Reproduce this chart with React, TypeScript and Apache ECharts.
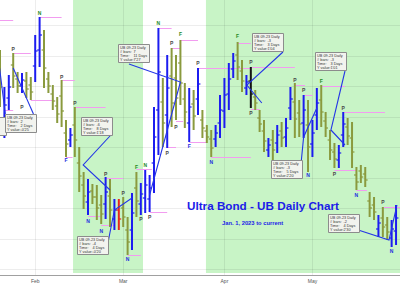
import { useEffect, useRef } from "react";
import * as echarts from "echarts";

// Weekday sessions shown on the chart, Jan 20 – May 26, 2023
const sessionDays: [string, number[]][] = [
  ["Jan", [20, 23, 24, 25, 26, 27, 30, 31]],
  ["Feb", [1, 2, 3, 6, 7, 8, 9, 10, 13, 14, 15, 16, 17, 20, 21, 22, 23, 24, 27, 28]],
  ["Mar", [1, 2, 3, 6, 7, 8, 9, 10, 13, 14, 15, 16, 17, 20, 21, 22, 23, 24, 27, 28, 29, 30, 31]],
  ["Apr", [3, 4, 5, 6, 7, 10, 11, 12, 13, 14, 17, 18, 19, 20, 21, 24, 25, 26, 27, 28]],
  ["May", [1, 2, 3, 4, 5, 8, 9, 10, 11, 12, 15, 16, 17, 18, 19, 22, 23, 24, 25, 26]],
];

// Daily OHLC of the UB 09-23 contract (points)
const opens = [
  136.5, 134.0, 135.1, 136.75, 136.05, 135.7, 135.95, 135.75, 136.7, 137.5,
  137.5, 136.05, 135.3, 134.7, 135.2, 133.35, 133.0, 133.75, 131.85, 130.75,
  129.9, 130.45, 130.15, 129.75, 129.8, 130.2, 129.05, 129.5, 129.6, 128.5,
  128.5, 130.6, 129.8, 130.1, 130.05, 131.85, 134.5, 134.9, 134.25, 136.2,
  136.1, 136.85, 135.05, 133.85, 134.8, 135.05, 134.0, 133.45, 133.05, 133.05,
  133.85, 134.45, 135.3, 136.55, 137.25, 136.45, 135.6, 135.95, 135.15, 134.1,
  133.45, 132.5, 133.0, 132.85, 133.45, 133.15, 134.6, 134.9, 134.35, 133.85,
  133.75, 132.8, 134.25, 135.0, 133.95, 133.0, 132.4, 132.0, 133.25, 133.65,
  133.1, 131.25, 131.45, 131.3, 129.95, 129.75, 128.55, 129.1, 128.75, 128.1,
  128.45,
];
const highs = [
  137.5, 135.65, 136.25, 137.35, 136.4, 136.35, 136.4, 136.15, 138.25, 139.15,
  138.5, 136.4, 135.75, 135.15, 136.0, 134.0, 133.6, 134.65, 132.65, 131.4,
  131.05, 130.8, 130.75, 130.25, 131.15, 131.05, 130.05, 130.05, 130.15, 129.15,
  130.35, 131.4, 130.85, 131.5, 131.25, 134.65, 138.6, 136.1, 137.25, 137.6,
  137.25, 138.0, 135.85, 135.6, 135.5, 136.6, 134.5, 133.75, 133.5, 133.75,
  135.25, 136.1, 136.85, 137.35, 137.9, 137.0, 136.25, 136.65, 135.5, 134.5,
  134.0, 133.1, 133.5, 133.75, 133.9, 134.1, 135.65, 135.85, 135.0, 135.25,
  135.0, 134.0, 135.6, 135.75, 134.4, 133.5, 132.85, 132.75, 134.4, 134.1,
  133.9, 131.65, 131.75, 131.65, 130.4, 130.15, 129.25, 129.65, 129.15, 129.0,
  129.75,
];
const lows = [
  134.65, 133.1, 134.5, 135.6, 135.35, 135.35, 135.1, 135.0, 135.9, 136.65,
  135.6, 135.35, 134.5, 133.85, 133.65, 132.15, 132.65, 132.15, 130.4, 129.55,
  129.25, 129.8, 129.0, 128.8, 129.05, 128.65, 128.5, 128.5, 128.65, 127.25,
  127.5, 129.15, 129.25, 129.35, 129.4, 130.35, 132.25, 132.65, 132.6, 133.65,
  134.0, 134.75, 133.6, 132.9, 133.5, 134.25, 133.1, 132.85, 132.15, 132.65,
  133.1, 133.6, 134.5, 136.1, 136.0, 135.4, 135.25, 134.6, 134.5, 133.4,
  132.4, 132.15, 132.0, 132.35, 132.65, 132.65, 134.0, 133.1, 133.15, 133.1,
  131.4, 132.15, 133.5, 133.65, 133.15, 132.0, 131.6, 131.6, 132.65, 132.75,
  131.6, 130.5, 130.85, 130.65, 129.15, 129.0, 128.15, 128.15, 128.0, 127.65,
  127.75,
];
const closes = [
  135.65, 134.75, 135.65, 136.2, 135.7, 136.0, 135.55, 135.4, 137.45, 138.25,
  136.6, 135.7, 134.95, 134.3, 134.45, 132.8, 133.25, 133.0, 131.2, 130.2,
  130.4, 130.15, 129.6, 129.3, 130.4, 129.5, 129.5, 129.05, 129.15, 127.9,
  129.35, 129.95, 130.3, 130.75, 130.6, 133.15, 136.4, 133.85, 135.6, 134.85,
  135.1, 135.85, 134.4, 134.65, 134.2, 135.8, 133.6, 133.15, 132.6, 133.35,
  134.5, 135.25, 136.05, 136.95, 136.65, 135.95, 135.9, 135.3, 134.85, 133.8,
  132.95, 132.75, 132.5, 133.25, 133.1, 133.6, 135.05, 134.05, 133.8, 134.5,
  132.65, 133.35, 134.85, 134.4, 133.6, 132.5, 132.05, 132.35, 133.8, 133.2,
  132.4, 130.9, 131.15, 131.0, 129.6, 129.4, 128.85, 128.65, 128.4, 128.55,
  129.1,
];
// Bar classification: u = up swing, d = down swing, x = outside, k = key reversal
const barState = [
  "d", "u", "u", "d", "d", "u", "d", "d", "u", "u",
  "d", "d", "d", "d", "d", "d", "u", "d", "d", "d",
  "u", "d", "d", "d", "u", "d", "u", "x", "d", "d",
  "u", "d", "u", "u", "u", "u", "u", "d", "u", "d",
  "d", "d", "d", "u", "d", "u", "d", "d", "d", "u",
  "u", "u", "u", "u", "d", "d", "u", "k", "d", "d",
  "d", "u", "d", "u", "d", "u", "u", "d", "d", "u",
  "d", "u", "u", "d", "d", "d", "d", "u", "u", "d",
  "d", "d", "d", "d", "d", "d", "u", "d", "d", "u",
  "u",
];

// Shaded trend regimes, in session index units [from, to]
const greenZones = [
  [16.6, 32.5],
  [46.8, 91.5],
];

// Horizontal grid levels (points)
const gridPrices = [138.75, 137.225, 135.7, 134.175, 132.65, 131.125, 129.6, 128.075, 126.55];

// Swing markers: letter, session index, price level
const pivotLetters = [
  "P", "N", "P", "P", "F", "P", "N", "N", "P", "P", "N", "F", "P", "N", "P", "N", "P", "P",
  "P", "F", "F", "P", "N", "F", "P", "P", "P", "P", "N", "F", "P", "P", "N", "P", "N",
];
const pivotIndex = [
  3, 9, 5, 14, 15, 17, 20, 23, 24, 28, 29, 31, 32, 33, 34, 36, 38, 39,
  40, 41, 43, 45, 48, 54, 57, 57, 67, 69, 70, 73, 76, 78, 81, 87, 89,
];
const pivotPrice = [
  137.55, 139.35, 134.65, 136.15, 132.0, 134.85, 128.95, 128.45, 131.3, 130.35, 127.05, 131.65,
  129.05, 131.75, 129.15, 138.85, 132.35, 137.85, 133.65, 138.3, 132.7, 136.85, 131.9, 138.2,
  136.9, 134.35, 136.0, 135.5, 131.25, 135.95, 131.3, 134.6, 130.25, 129.9, 127.45,
];
const pivotAbove = [
  1, 1, 0, 1, 0, 1, 0, 0, 1, 1, 0, 1, 0, 1, 0, 1, 0, 1,
  0, 1, 0, 1, 0, 1, 1, 0, 1, 1, 0, 1, 0, 1, 0, 1, 0,
];

// Pivot extension levels: [from index, to index, price]
const pivotLevels = [
  [-0.5, 3, 139.0], [9, 14, 139.15], [3, 7, 137.35], [1, 3, 134.5], [7, 12, 135.0],
  [14, 17, 136.0], [17, 24, 134.65], [15, 16.5, 132.15], [24, 28, 131.1], [23, 26, 128.75],
  [29, 32, 127.25], [31, 34.5, 131.55], [34, 38, 129.4], [38, 40, 132.65], [36, 39, 138.6],
  [39, 41, 137.6], [41, 45, 138.0], [40, 41.6, 133.95], [43, 47, 132.9], [45, 57, 136.6],
  [57, 67, 136.65], [54, 57, 137.85], [57, 59, 134.55], [48, 57, 132.15], [67, 69.3, 135.75],
  [73, 78.4, 135.7], [69, 71, 135.25], [78, 87.5, 134.4], [76, 81, 131.5], [81, 83.4, 130.5],
  [87, 91, 129.65], [20, 23, 129.2],
];

// Measurement notes: box corner [index, price] and texts
const noteCorner = [
  [1.14, 134.3], [18.4, 134.15], [26.8, 137.8], [17.5, 128.2],
  [57.3, 138.35], [71.6, 137.4], [61.6, 132.0], [74.5, 129.3],
];
const noteBars = ["2", "-6", "7", "-4", "-3", "-3", "-3", "-2"];
const noteTime = ["2 Days", "8 Days", "11 Days", "4 Days", "3 Days", "3 Days", "5 Days", "4 Days"];
const noteValue = ["-0'25", "1'18", "7'27", "-0'20", "1'04", "1'01", "2'20", "2'30"];
// Earlier note whose box sits left of the visible range: corner [index, price]
const offscreenNote = [-5.7, 134.15];
// Measurement legs, leader first: [index, price] vertices
const notePaths = [
  [[-0.1, 136.6], [1.2, 134.3]],
  [[3, 136.6], [7.6, 134.3]],
  [[25.2, 133.25], [18.9, 131.75], [25, 130.5]],
  [[29.3, 136.8], [41, 135.9], [34, 130.25]],
  [[24.3, 127.6], [26, 129.5], [30, 130.1]],
  [[64.3, 137.4], [56.1, 135.75], [59.5, 134.85]],
  [[78.4, 136.45], [75.2, 133.5], [78.4, 132.75]],
  [[68.4, 131.8], [69, 133.15], [72, 134.6]],
  [[81.4, 128.5], [88.4, 128.0], [90.2, 129.75]],
];

const Y_MIN = 126.25;
const Y_MAX = 140;
const FONT = '"Liberation Sans", Arial, sans-serif';
const stateColor: Record<string, string> = { u: "#1c1cf0", d: "#8a9a3e", x: "#e8261e", k: "#141414" };
const BOX_W = 31;
const BOX_H = 18;

export default function App() {
  const ref = useRef<HTMLDivElement>(null);

  useEffect(() => {
    if (!ref.current) return;
    const chart = echarts.init(ref.current, undefined, { renderer: "svg" });

    const monthStarts: number[] = [];
    const monthName: Record<number, string> = {};
    let offset = 0;
    sessionDays.forEach(([m, days], k) => {
      if (k > 0) {
        monthStarts.push(offset);
        monthName[offset] = m;
      }
      offset += days.length;
    });

    const ohlc = opens.map((o, i) => [i, o, highs[i], lows[i], closes[i]]);
    const boxFill = { fill: "#f2f3ee", stroke: "#8c8c8c", lineWidth: 1 };

    chart.setOption({
      animation: false,
      textStyle: { fontFamily: FONT },
      grid: { left: 0, right: 0, top: 0, bottom: 9 },
      xAxis: {
        type: "value",
        min: 0,
        max: 90.9,
        splitLine: { show: false },
        axisTick: { show: false },
        axisLine: { show: true, lineStyle: { color: "#a0a0a0", width: 1 } },
        axisLabel: {
          customValues: monthStarts,
          formatter: (v: number) => monthName[v] ?? "",
          fontSize: 5,
          color: "#555",
          margin: 3,
        },
      },
      yAxis: { type: "value", min: Y_MIN, max: Y_MAX, show: false },
      graphic: [
        {
          type: "text",
          left: 187,
          top: 199,
          z: 100,
          silent: true,
          style: { text: "Ultra Bond - UB Daily Chart", fill: "#1c1ce8", font: `bold 11.7px ${FONT}` },
        },
        {
          type: "text",
          left: 222,
          top: 220,
          z: 100,
          silent: true,
          style: { text: "Jan. 1, 2023 to current", fill: "#1c1ce8", font: `bold 5.8px ${FONT}` },
        },
      ],
      series: [
        {
          type: "custom",
          name: "zones",
          silent: true,
          z: 0,
          data: greenZones,
          renderItem: (params: any, api: any) => {
            const cs = params.coordSys;
            const a = api.coord([api.value(0), Y_MAX]);
            const b = api.coord([api.value(1), Y_MAX]);
            return {
              type: "rect",
              shape: { x: a[0], y: cs.y, width: b[0] - a[0], height: cs.height - 2 },
              style: { fill: "#c8f4c6" },
            };
          },
        },
        {
          type: "custom",
          name: "grid",
          silent: true,
          z: 1,
          data: gridPrices.map((p) => [0, p]),
          renderItem: (params: any, api: any) => {
            const cs = params.coordSys;
            const p = api.coord([0, api.value(1)]);
            const y = Math.round(p[1]) + 0.5;
            return {
              type: "line",
              shape: { x1: cs.x, y1: y, x2: cs.x + cs.width, y2: y },
              style: { stroke: "rgba(0,0,0,0.07)", lineWidth: 1 },
            };
          },
        },
        {
          type: "custom",
          name: "months",
          silent: true,
          z: 1,
          data: monthStarts.map((m) => [m, Y_MAX]),
          renderItem: (params: any, api: any) => {
            const cs = params.coordSys;
            const p = api.coord([api.value(0), Y_MAX]);
            const x = Math.round(p[0]) + 0.5;
            return {
              type: "line",
              shape: { x1: x, y1: cs.y, x2: x, y2: cs.y + cs.height },
              style: { stroke: "rgba(0,0,0,0.07)", lineWidth: 1 },
            };
          },
        },
        {
          type: "custom",
          name: "levels",
          silent: true,
          z: 2,
          data: pivotLevels,
          renderItem: (_params: any, api: any) => {
            const a = api.coord([api.value(0), api.value(2)]);
            const b = api.coord([api.value(1), api.value(2)]);
            const y = Math.round(a[1]) + 0.5;
            return {
              type: "line",
              shape: { x1: a[0], y1: y, x2: b[0], y2: y },
              style: { stroke: "#f29cf0", lineWidth: 1 },
            };
          },
        },
        {
          type: "custom",
          name: "UB 09-23",
          z: 3,
          data: ohlc,
          encode: { x: 0, y: [1, 2, 3, 4] },
          renderItem: (params: any, api: any) => {
            const i = api.value(0);
            const op = api.coord([i, api.value(1)]);
            const hi = api.coord([i, api.value(2)]);
            const lo = api.coord([i, api.value(3)]);
            const cl = api.coord([i, api.value(4)]);
            const color = stateColor[barState[params.dataIndex]];
            return {
              type: "group",
              children: [
                { type: "line", shape: { x1: hi[0], y1: hi[1], x2: lo[0], y2: lo[1] }, style: { stroke: color, lineWidth: 2 } },
                { type: "line", shape: { x1: op[0] - 2.4, y1: op[1], x2: op[0], y2: op[1] }, style: { stroke: color, lineWidth: 1.2 } },
                { type: "line", shape: { x1: cl[0], y1: cl[1], x2: cl[0] + 2.4, y2: cl[1] }, style: { stroke: color, lineWidth: 1.2 } },
              ],
            };
          },
        },
        {
          type: "custom",
          name: "legs",
          silent: true,
          z: 4,
          data: notePaths.map((_, k) => [k, Y_MAX]),
          renderItem: (params: any, api: any) => {
            const pts = notePaths[params.dataIndex].map((pt) => api.coord(pt));
            return {
              type: "polyline",
              shape: { points: pts },
              style: { stroke: "#2436e6", lineWidth: 1.1, fill: "none" },
            };
          },
        },
        {
          type: "custom",
          name: "offscreen note",
          silent: true,
          z: 5,
          data: [offscreenNote],
          renderItem: (_params: any, api: any) => {
            const p = api.coord([api.value(0), api.value(1)]);
            const x = Math.round(p[0]) + 0.5;
            const y = Math.round(p[1]) + 0.5;
            return { type: "rect", shape: { x, y, width: BOX_W, height: BOX_H }, style: boxFill };
          },
        },
        {
          type: "custom",
          name: "notes",
          silent: true,
          z: 5,
          data: noteCorner,
          renderItem: (params: any, api: any) => {
            const k = params.dataIndex;
            const p = api.coord([api.value(0), api.value(1)]);
            const x = Math.round(p[0]) + 0.5;
            const y = Math.round(p[1]) + 0.5;
            const rows: [string, string][] = [
              ["UB 09-23 Daily", ""],
              ["# bars:", noteBars[k]],
              ["Time:", noteTime[k]],
              ["Y value:", noteValue[k]],
            ];
            const children: any[] = [
              { type: "rect", shape: { x, y, width: BOX_W, height: BOX_H }, style: boxFill },
            ];
            rows.forEach(([label, val], j) => {
              children.push({
                type: "text",
                x: x + 1.6,
                y: y + 1.3 + j * 4.1,
                style: { text: label, fill: "#333", fontSize: 3.8, fontFamily: FONT, verticalAlign: "top" },
              });
              if (val) {
                children.push({
                  type: "text",
                  x: x + 15,
                  y: y + 1.3 + j * 4.1,
                  style: { text: val, fill: "#333", fontSize: 3.8, fontFamily: FONT, verticalAlign: "top" },
                });
              }
            });
            return { type: "group", children };
          },
        },
        {
          type: "custom",
          name: "pivots",
          silent: true,
          z: 6,
          data: pivotIndex.map((i, k) => [i, pivotPrice[k]]),
          renderItem: (params: any, api: any) => {
            const k = params.dataIndex;
            const p = api.coord([api.value(0), api.value(1)]);
            const letter = pivotLetters[k];
            const above = pivotAbove[k] === 1;
            const fill = letter === "P" ? "#4a4a4a" : above ? "#238a23" : "#1c2ce0";
            return {
              type: "text",
              x: p[0],
              y: p[1],
              style: {
                text: letter,
                fill,
                fontSize: 5,
                fontWeight: "bold",
                fontFamily: FONT,
                align: "center",
                verticalAlign: "middle",
              },
            };
          },
        },
      ],
    });

    return () => chart.dispose();
  }, []);

  return (
    <div
      ref={ref}
      style={{ position: "fixed", left: 0, top: 0, width: 400, height: 284, background: "#fff" }}
    />
  );
}
